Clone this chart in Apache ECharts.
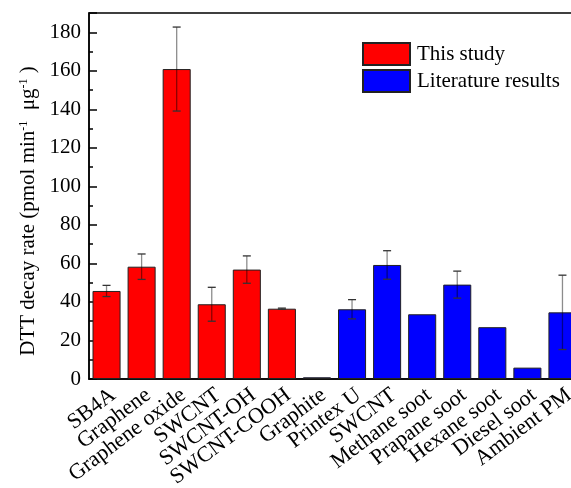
<!DOCTYPE html>
<html>
<head>
<meta charset="utf-8">
<script src="https://cdn.jsdelivr.net/npm/echarts@6/dist/echarts.min.js"></script>
<style>
  html, body { margin: 0; padding: 0; background: #fff; }
  #chart { width: 571px; height: 488px; }
</style>
</head>
<body>
<div id="chart"></div>
<script>
const categories = ["SB4A", "Graphene", "Graphene oxide", "SWCNT", "SWCNT-OH", "SWCNT-COOH", "Graphite",
  "Printex U", "SWCNT", "Methane soot", "Prapane soot", "Hexane soot", "Diesel soot", "Ambient PM"];
// DTT decay rate, pmol min-1 ug-1
const values = [45.7, 58.3, 160.9, 38.8, 56.8, 36.5, 0.9, 36.2, 59.2, 33.6, 49.0, 26.9, 5.9, 34.6];
const errors = [2.9, 6.6, 21.8, 8.8, 7.1, 0.3, 0, 5.0, 7.4, 0, 7.0, 0, 0, 19.3];
const groups = ["This study", "This study", "This study", "This study", "This study", "This study",
  "Literature results", "Literature results", "Literature results", "Literature results",
  "Literature results", "Literature results", "Literature results", "Literature results"];
const yTicks = [0, 20, 40, 60, 80, 100, 120, 140, 160, 180];

const FONT = "Liberation Serif";
const chart = echarts.init(document.getElementById("chart"));

const groupData = (name) => values.map((v, i) => (groups[i] === name ? v : "-"));
const errData = values.map((v, i) => [i, v, errors[i]]);

const option = {
  animation: false,
  textStyle: { fontFamily: FONT, color: "#000" },
  grid: {
    left: 89, top: 13, right: -9, bottom: 109, outerBoundsMode: "none",
    show: true, borderColor: "#000", borderWidth: 1.5
  },
  legend: {
    left: 362, top: 42, padding: 0, orient: "vertical", icon: "rect",
    itemWidth: 47, itemHeight: 22, itemGap: 3,
    textStyle: { fontFamily: FONT, fontSize: 21, color: "#000", padding: [0, 0, 0, 2] },
    data: ["This study", "Literature results"]
  },
  xAxis: [{
    type: "category",
    data: categories,
    axisLine: { lineStyle: { color: "#000", width: 1.5 } },
    axisTick: { inside: true, alignWithLabel: true, length: 6, lineStyle: { color: "#000", width: 1.5 } },
    axisLabel: {
      interval: 0, rotate: 37, margin: 5, verticalAlign: "top",
      fontFamily: FONT, fontSize: 22, color: "#000"
    }
  }, {
    type: "category",
    data: categories,
    position: "bottom",
    axisLine: { show: false },
    axisTick: { inside: true, length: 3, lineStyle: { color: "#000", width: 1.5 } },
    axisLabel: { show: false }
  }],
  yAxis: {
    type: "value",
    min: 0, max: 190, interval: 20,
    name: "{n|DTT decay rate (pmol min}{s|-1}{n|  μg}{s|-1}{n| )}",
    nameLocation: "middle",
    nameRotate: 90,
    nameGap: 48,
    nameTextStyle: {
      padding: [0, 30, 0, 0],
      rich: {
        n: { fontFamily: FONT, fontSize: 21, color: "#000" },
        s: { fontFamily: FONT, fontSize: 12, color: "#000", verticalAlign: "top", padding: [0, 0, 7, 0] }
      }
    },
    splitLine: { show: false },
    axisLine: { show: true, lineStyle: { color: "#000", width: 1.5 } },
    axisTick: { show: true, inside: true, length: 8, lineStyle: { color: "#000", width: 1.5 } },
    minorTick: { show: true, splitNumber: 2, length: 4, lineStyle: { color: "#000", width: 1.5 } },
    axisLabel: {
      showMaxLabel: false, fontFamily: FONT, fontSize: 21, color: "#000", margin: 8,
      formatter: (v) => (yTicks.includes(v) ? String(v) : "")
    }
  },
  series: [
    {
      name: "This study", type: "bar", data: groupData("This study"),
      barWidth: "80%", barGap: "-100%",
      itemStyle: { color: "#ff0000", borderColor: "#222", borderWidth: 1 }
    },
    {
      name: "Literature results", type: "bar", data: groupData("Literature results"),
      barWidth: "80%", barGap: "-100%",
      itemStyle: { color: "#0000ff", borderColor: "#222", borderWidth: 1 }
    },
    {
      type: "custom", name: "err", data: errData, z: 10,
      renderItem: (params, api) => {
        const i = api.value(0), v = api.value(1), e = api.value(2);
        if (!e) return null;
        const hi = api.coord([i, v + e]);
        const lo = api.coord([i, v - e]);
        const cw = 4;
        return {
          type: "group",
          children: [
            { type: "line", shape: { x1: hi[0], y1: hi[1], x2: lo[0], y2: lo[1] },
              style: { stroke: "rgba(0,0,0,0.45)", lineWidth: 1.3 } },
            { type: "line", shape: { x1: hi[0] - cw, y1: hi[1], x2: hi[0] + cw, y2: hi[1] },
              style: { stroke: "#333", lineWidth: 1.3 } },
            { type: "line", shape: { x1: lo[0] - cw, y1: lo[1], x2: lo[0] + cw, y2: lo[1] },
              style: { stroke: "#333", lineWidth: 1.3 } }
          ]
        };
      }
    }
  ]
};

chart.setOption(option);
</script>
</body>
</html>
